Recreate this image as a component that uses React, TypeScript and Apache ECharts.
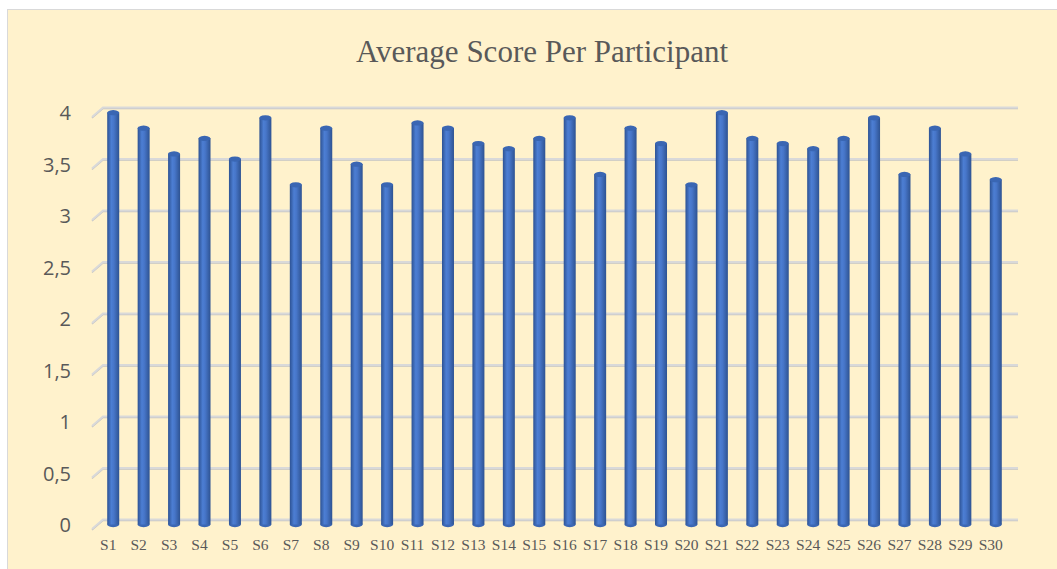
import React, { useEffect, useRef } from "react";
import * as echarts from "echarts";

const categories: string[] = Array.from({ length: 30 }, (_, i) => "S" + (i + 1));
const scores: number[] = [
  4.0, 3.85, 3.6, 3.75, 3.55, 3.95, 3.3, 3.85, 3.5, 3.3,
  3.9, 3.85, 3.7, 3.65, 3.75, 3.95, 3.4, 3.85, 3.7, 3.3,
  4.0, 3.75, 3.7, 3.65, 3.75, 3.95, 3.4, 3.85, 3.6, 3.35,
];
const yTicks: number[] = [0, 0.5, 1, 1.5, 2, 2.5, 3, 3.5, 4];
const titleText = "Average Score Per Participant";

export default function App() {
  const ref = useRef<HTMLDivElement>(null);

  useEffect(() => {
    if (!ref.current) return;
    const chart = echarts.init(ref.current, null, { renderer: "svg" });
    const barGrad = new echarts.graphic.LinearGradient(0, 0, 1, 0, [
      { offset: 0, color: "#2D5293" },
      { offset: 0.35, color: "#4C7ED3" },
      { offset: 0.55, color: "#4776C9" },
      { offset: 1, color: "#2E5392" },
    ]);
    const option: any = {
      animation: false,
      backgroundColor: "transparent",
      title: {
        text: titleText,
        left: 537,
        textAlign: "center",
        top: 31,
        textStyle: {
          fontFamily: "Liberation Serif, Times New Roman, serif",
          fontSize: 31,
          fontWeight: "normal",
          color: "#595959",
        },
      },
      grid: { left: 98, right: 46, top: 112.5, bottom: 44.5 },
      xAxis: {
        type: "category",
        data: categories,
        axisLine: { show: false },
        axisTick: { show: false },
        axisLabel: {
          interval: 0,
          margin: 12,
          padding: [0, 10, 0, 0],
          fontFamily: "Liberation Serif, Times New Roman, serif",
          fontSize: 15.5,
          color: "#595959",
        },
      },
      yAxis: {
        type: "value",
        min: 0,
        max: 4,
        interval: 0.5,
        splitLine: { show: false },
        axisLine: { show: false },
        axisTick: { show: false },
        axisLabel: {
          margin: 27,
          padding: [9, 0, 0, 0],
          fontFamily: "Open Sans, Noto Sans, sans-serif",
          fontSize: 20,
          color: "#595959",
          formatter: (v: number) => String(v).replace(".", ","),
        },
      },
      series: [
        {
          type: "custom",
          z: 0,
          silent: true,
          clip: false,
          data: yTicks.map((v) => [0, v]),
          renderItem: (params: any, api: any) => {
            const cs = params.coordSys;
            const y = api.coord([0, api.value(1)])[1];
            const x0 = cs.x;
            const x1 = cs.x + cs.width;
            const pts = [
              [x0 - 6, y + 4.5],
              [x0 + 5, y - 5],
              [x1 + 7, y - 5],
            ];
            return {
              type: "group",
              children: [
                {
                  type: "polyline",
                  shape: { points: pts.map((p) => [p[0], p[1] + 1]) },
                  style: { stroke: "#C4C4C4", lineWidth: 1.5, fill: null },
                },
                {
                  type: "polyline",
                  shape: { points: pts },
                  style: { stroke: "#D9D9D9", lineWidth: 2, fill: null },
                },
              ],
            };
          },
        },
        {
          type: "bar",
          z: 2,
          data: scores,
          barWidth: 12,
          itemStyle: { color: barGrad },
        },
        {
          type: "pictorialBar",
          z: 3,
          data: scores,
          symbol: "circle",
          symbolSize: [12, 5],
          symbolPosition: "end",
          symbolOffset: [0, "-50%"],
          itemStyle: { color: "#3A66B3", borderColor: "#2D5293", borderWidth: 0.6 },
          silent: true,
        },
        {
          type: "pictorialBar",
          z: 1,
          data: scores,
          symbol: "circle",
          symbolSize: [12, 5],
          symbolPosition: "start",
          symbolOffset: [0, "50%"],
          itemStyle: { color: "#3B67B4" },
          silent: true,
        },
      ],
    };
    chart.setOption(option);
    return () => chart.dispose();
  }, []);

  return (
    <div style={{ position: "fixed", left: 0, top: 0, width: 1057, height: 569, overflow: "hidden" }}>
      <div
        style={{
          position: "absolute",
          left: 7,
          top: 9,
          width: 1070,
          height: 580,
          background: "#FFF2CC",
          border: "1px solid #D9D9D9",
        }}
      />
      <div ref={ref} style={{ position: "absolute", left: 0, top: 0, width: 1057, height: 569 }} />
    </div>
  );
}
